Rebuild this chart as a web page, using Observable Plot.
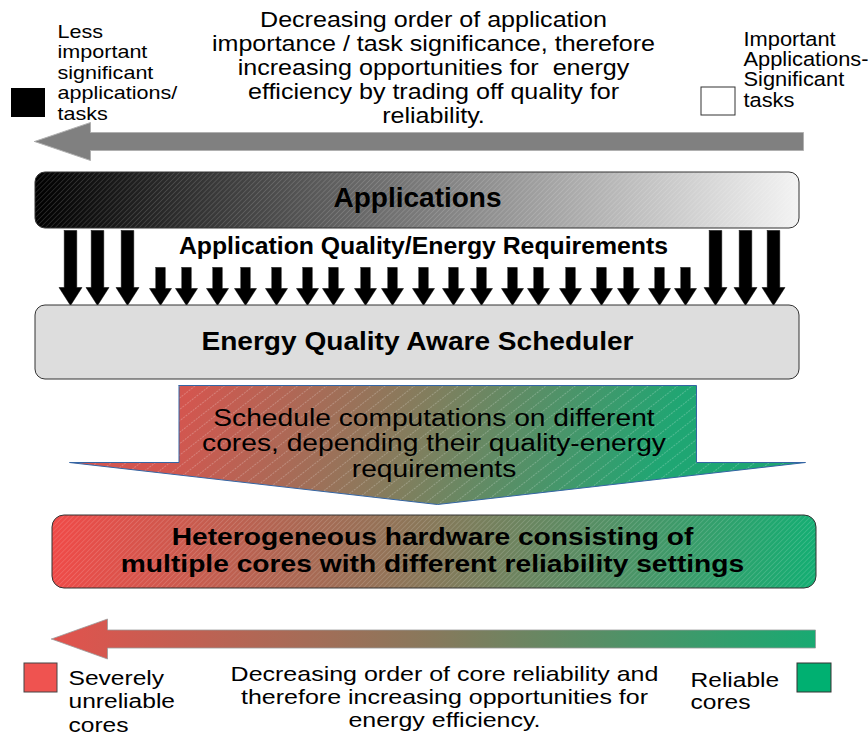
<!DOCTYPE html>
<html><head><meta charset="utf-8">
<script src="https://cdn.jsdelivr.net/npm/d3@7"></script>
<script src="https://cdn.jsdelivr.net/npm/@observablehq/plot@0.6"></script>
<style>html,body{margin:0;padding:0;background:#fff;} #chart svg{display:block;background:#fff;}</style>
</head><body><div id="chart"></div>
<script>
// ---------- content ----------
const topNote = ["Decreasing order of application", "importance / task significance, therefore", "increasing opportunities for  energy", "efficiency by trading off quality for", "reliability."];
const lessNote = ["Less", "important", "significant", "applications/", "tasks"];
const importantNote = ["Important", "Applications-", "Significant", "tasks"];
const requirementsLabel = "Application Quality/Energy Requirements";
const calloutNote = ["Schedule computations on different", "cores, depending their quality-energy", "requirements"];
const bottomNote = ["Decreasing order of core reliability and", "therefore increasing opportunities for", "energy efficiency."];
const severeNote = ["Severely", "unreliable", "cores"];
const reliableNote = ["Reliable", "cores"];

// boxes (diagram coordinates, px of reference)
const boxes = [
  {id: "apps", label: "Applications", x1: 35, x2: 799, y1: 172, y2: 228},
  {id: "sched", label: "Energy Quality Aware Scheduler", x1: 35, x2: 799, y1: 305, y2: 379},
  {id: "hw", label: "Heterogeneous hardware consisting of\nmultiple cores with different reliability settings", x1: 52, x2: 816, y1: 515, y2: 588}
];
// requirement arrows (centre x)
const longArrowX = [70, 97, 127, 715, 745, 773];
const shortArrowX = [160, 186, 217, 245, 276, 307, 333, 365, 392, 423, 453, 481, 512, 538, 570, 601, 628, 659, 685];
// legend swatches
const swatches = [
  {id: "less", x1: 11, x2: 45, y1: 88, y2: 117},
  {id: "important", x1: 701, x2: 735, y1: 87, y2: 115},
  {id: "severe", x1: 24, x2: 57, y1: 663, y2: 692},
  {id: "reliable", x1: 797, x2: 831, y1: 663, y2: 692}
];
// horizontal arrows: tip, centre y, head back, head half height, shaft half height, end
const horizArrows = [
  {id: "importance", tip: 34, cy: 141, back: 90, hh: 19, sh: 9, end: 803},
  {id: "reliability", tip: 51, cy: 638.5, back: 107, hh: 20, sh: 9, end: 815}
];
// schedule callout outline
const calloutPts = [[178.5, 385], [696, 385], [696, 462], [805, 462], [437, 504], [69, 462], [178.5, 462], [178.5, 385]];

// ---------- geometry helpers ----------
function downArrow(id, cx, top, headY, tip, sw, hw) {
  return [[cx - sw/2, top], [cx + sw/2, top], [cx + sw/2, headY], [cx + hw/2, headY], [cx, tip], [cx - hw/2, headY], [cx - sw/2, headY], [cx - sw/2, top]]
    .map(([x, y]) => ({id, x, y}));
}
function leftArrow(a) {
  return [[a.tip, a.cy], [a.back, a.cy - a.hh], [a.back, a.cy - a.sh], [a.end, a.cy - a.sh], [a.end, a.cy + a.sh], [a.back, a.cy + a.sh], [a.back, a.cy + a.hh], [a.tip, a.cy]]
    .map(([x, y]) => ({id: a.id, x, y}));
}
const longArrows = longArrowX.flatMap((cx, i) => downArrow("L" + i, cx, 230, 287, 305, 12.5, 23));
const shortArrows = shortArrowX.flatMap((cx, i) => downArrow("S" + i, cx, 267, 288, 305, 9.5, 22));
const grayArrow = leftArrow(horizArrows[0]);
const colorArrow = leftArrow(horizArrows[1]);
const callout = calloutPts.map(([x, y]) => ({id: "callout", x, y}));

const FONT = "'Liberation Sans', Arial, Helvetica, sans-serif";
const texts = [];
function label(lines, x, y, o, stretch) {
  texts.push(stretch);
  return Plot.text([{t: Array.isArray(lines) ? lines.join("\n") : lines, x, y}], {
    x: "x", y: "y", text: "t", lineAnchor: "bottom", fill: "#000", fontFamily: FONT, ...o
  });
}
const byId = id => boxes.filter(d => d.id === id);

const marks = [
  // top importance arrow and legend
  Plot.line(grayArrow, {x: "x", y: "y", z: "id", fill: "#808080", stroke: "#b0b0b0", strokeWidth: 1}),
  Plot.rect(swatches.filter(d => d.id === "less"), {x1: "x1", x2: "x2", y1: "y1", y2: "y2", fill: "#000"}),
  Plot.rect(swatches.filter(d => d.id === "important"), {x1: "x1", x2: "x2", y1: "y1", y2: "y2", fill: "#fff", stroke: "#333", strokeWidth: 1}),
  label(topNote, 433, 122, {fontSize: 22, lineHeight: 1.08, textAnchor: "middle"}, 1.14),
  label(lessNote, 57, 119.3, {fontSize: 18.6, lineHeight: 1.1, textAnchor: "start"}, 1.16),
  label(importantNote, 743, 106, {fontSize: 19.5, lineHeight: 1.03, textAnchor: "start"}, 1.12),
  // applications box
  Plot.rect(byId("apps"), {x1: "x1", x2: "x2", y1: "y1", y2: "y2", rx: 10, fill: "url(#gApps)"}),
  Plot.rect(byId("apps"), {x1: "x1", x2: "x2", y1: "y1", y2: "y2", rx: 10, fill: "url(#hatchDense)", stroke: "#333", strokeWidth: 1}),
  label("Applications", 417, 206.5, {fontSize: 28, fontWeight: "bold", textAnchor: "middle"}, 1.0),
  label(requirementsLabel, 423, 253.3, {fontSize: 24.8, fontWeight: "bold", textAnchor: "middle"}, 1.0),
  // requirement arrows
  Plot.line(longArrows, {x: "x", y: "y", z: "id", fill: "#000", stroke: "#000", strokeWidth: 0.5}),
  Plot.line(shortArrows, {x: "x", y: "y", z: "id", fill: "#000", stroke: "#000", strokeWidth: 0.5}),
  // scheduler
  Plot.rect(byId("sched"), {x1: "x1", x2: "x2", y1: "y1", y2: "y2", rx: 10, fill: "#dddddd", stroke: "#333", strokeWidth: 1}),
  label("Energy Quality Aware Scheduler", 417, 349.3, {fontSize: 26, fontWeight: "bold", textAnchor: "middle"}, 1.08),
  // callout arrow
  Plot.line(callout, {x: "x", y: "y", z: "id", fill: "url(#gCallout)", stroke: "none"}),
  Plot.line(callout, {x: "x", y: "y", z: "id", fill: "url(#hatchSparse)", stroke: "#3465a4", strokeWidth: 1}),
  label(calloutNote, 433.5, 476, {fontSize: 23.3, lineHeight: 1.094, textAnchor: "middle"}, 1.21),
  // hardware
  Plot.rect(byId("hw"), {x1: "x1", x2: "x2", y1: "y1", y2: "y2", rx: 12, fill: "url(#gHw)"}),
  Plot.rect(byId("hw"), {x1: "x1", x2: "x2", y1: "y1", y2: "y2", rx: 12, fill: "url(#hatchDense)", stroke: "#333", strokeWidth: 1}),
  label(["Heterogeneous hardware consisting of", "multiple cores with different reliability settings"], 432, 571.7, {fontSize: 23.3, fontWeight: "bold", lineHeight: 1.15, textAnchor: "middle"}, 1.21),
  // reliability arrow + legend
  Plot.line(colorArrow, {x: "x", y: "y", z: "id", fill: "url(#gArrow)", stroke: "#9a9a9a", strokeWidth: 0.8}),
  Plot.rect(swatches.filter(d => d.id === "severe"), {x1: "x1", x2: "x2", y1: "y1", y2: "y2", fill: "#ef5350", stroke: "#444", strokeWidth: 1}),
  Plot.rect(swatches.filter(d => d.id === "reliable"), {x1: "x1", x2: "x2", y1: "y1", y2: "y2", fill: "#00b071", stroke: "#333", strokeWidth: 1}),
  label(bottomNote, 444, 726, {fontSize: 21, lineHeight: 1.095, textAnchor: "middle"}, 1.19),
  label(severeNote, 68, 731, {fontSize: 21, lineHeight: 1.1, textAnchor: "start"}, 1.17),
  label(reliableNote, 690, 708.3, {fontSize: 21, lineHeight: 1.06, textAnchor: "start"}, 1.17)
];

const W = 868, H = 735;
const svg = Plot.plot({
  width: W, height: H, margin: 0,
  x: {domain: [0, W], range: [0, W], axis: null},
  y: {domain: [0, H], range: [0, H], axis: null},
  style: {background: "#fff", overflow: "visible"},
  marks
});

// gradients & hatch patterns
const defs = d3.select(svg).insert("defs", ":first-child");
function lin(id, x1, y1, x2, y2, stops) {
  const g = defs.append("linearGradient").attr("id", id).attr("gradientUnits", "userSpaceOnUse")
    .attr("x1", x1).attr("y1", y1).attr("x2", x2).attr("y2", y2);
  stops.forEach(([o, c]) => g.append("stop").attr("offset", o).attr("stop-color", c));
}
lin("gApps", 35, 200, 799, 200, [[0, "#000"], [0.5, "#7a7a7a"], [1, "#f3f3f3"]]);
lin("gCallout", 190, 385, 640, 530, [[0, "#d3564f"], [0.5, "#7f7f5e"], [1, "#1fa673"]]);
lin("gHw", 52, 540, 816, 565, [[0, "#f04a48"], [0.5, "#86795a"], [1, "#14ae73"]]);
lin("gArrow", 51, 638, 815, 638, [[0, "#e2524d"], [0.5, "#87795c"], [1, "#18aa72"]]);
function hatch(id, size, angle, op, dash) {
  const p = defs.append("pattern").attr("id", id).attr("patternUnits", "userSpaceOnUse")
    .attr("width", size).attr("height", size).attr("patternTransform", `rotate(${angle})`);
  const l = p.append("line").attr("x1", 0).attr("y1", 0).attr("x2", 0).attr("y2", size)
    .attr("stroke", "#fff").attr("stroke-opacity", op).attr("stroke-width", 0.9);
  if (dash) l.attr("stroke-dasharray", dash);
}
hatch("hatchDense", 3.5, 45, 0.28);
hatch("hatchSparse", 9, 52, 0.5, "2,1");

// horizontal stretch of each text block (reference text is drawn wide)
const textGroups = svg.querySelectorAll('g[aria-label="text"]');
textGroups.forEach((g, i) => {
  const s = texts[i] ?? 1;
  if (s === 1) return;
  g.querySelectorAll("text").forEach(t => {
    const tr = t.getAttribute("transform") || "";
    t.setAttribute("transform", tr + ` scale(${s},1)`);
  });
});
document.getElementById("chart").append(svg);
</script>
</body></html>
